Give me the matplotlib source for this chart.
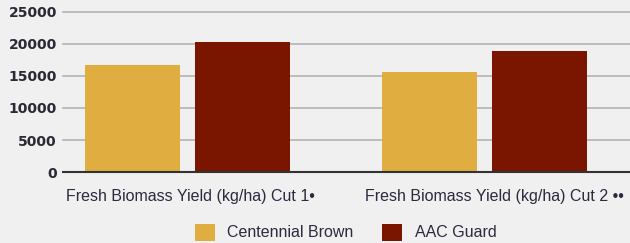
import matplotlib.pyplot as plt
from matplotlib.patches import Patch
import numpy as np

plt.rcParams['font.family'] = ['Liberation Sans', 'DejaVu Sans']

# Datos
categories = ['Fresh Biomass Yield (kg/ha) Cut 1\u2022', 'Fresh Biomass Yield (kg/ha) Cut 2 \u2022\u2022']
series_names = ['Centennial Brown', 'AAC Guard']
centennial_brown = [16700, 15600]
aac_guard = [20300, 18900]
y_ticks = [0, 5000, 10000, 15000, 20000, 25000]

colors = ['#e0ad41', '#7a1500']
bg = '#f0f0f0'

fig = plt.figure(figsize=(6.3, 2.43), dpi=100, facecolor=bg)
ax = fig.add_axes([0.1, 0.292, 0.9, 0.659], facecolor=bg)

x = np.arange(len(categories))
w = 0.32
ax.bar(x - 0.185, centennial_brown, w, color=colors[0], zorder=3)
ax.bar(x + 0.185, aac_guard, w, color=colors[1], zorder=3)

ax.set_xlim(-0.42, 1.49)
ax.set_ylim(0, 25000)
ax.set_yticks(y_ticks)
ax.set_yticklabels([str(v) for v in y_ticks], fontsize=10, fontweight='bold',
                   color='#2a2a35', family='DejaVu Sans')
ax.set_xticks(x + np.array([0.01, 0.035]))
ax.set_xticklabels(categories, fontsize=11.5, color='#2a2a40')
ax.tick_params(axis='both', length=0)
ax.tick_params(axis='x', pad=12)
ax.tick_params(axis='y', pad=4.5)

for v in y_ticks[1:]:
    ax.axhline(v, color='#b8b8b8', lw=1.3, zorder=1, clip_on=False)
ax.axhline(0, color='#333333', lw=1.5, zorder=4, clip_on=False)

for s in ax.spines.values():
    s.set_visible(False)

handles = [Patch(facecolor=c) for c in colors]
fig.legend(handles, series_names, loc='center', bbox_to_anchor=(0.549, 0.045), ncol=2,
           frameon=False, fontsize=11.5, handlelength=1.25, handleheight=1.25,
           columnspacing=1.8, handletextpad=0.8, labelcolor='#2a2a40')

fig.savefig('out.png', dpi=100, facecolor=bg)
